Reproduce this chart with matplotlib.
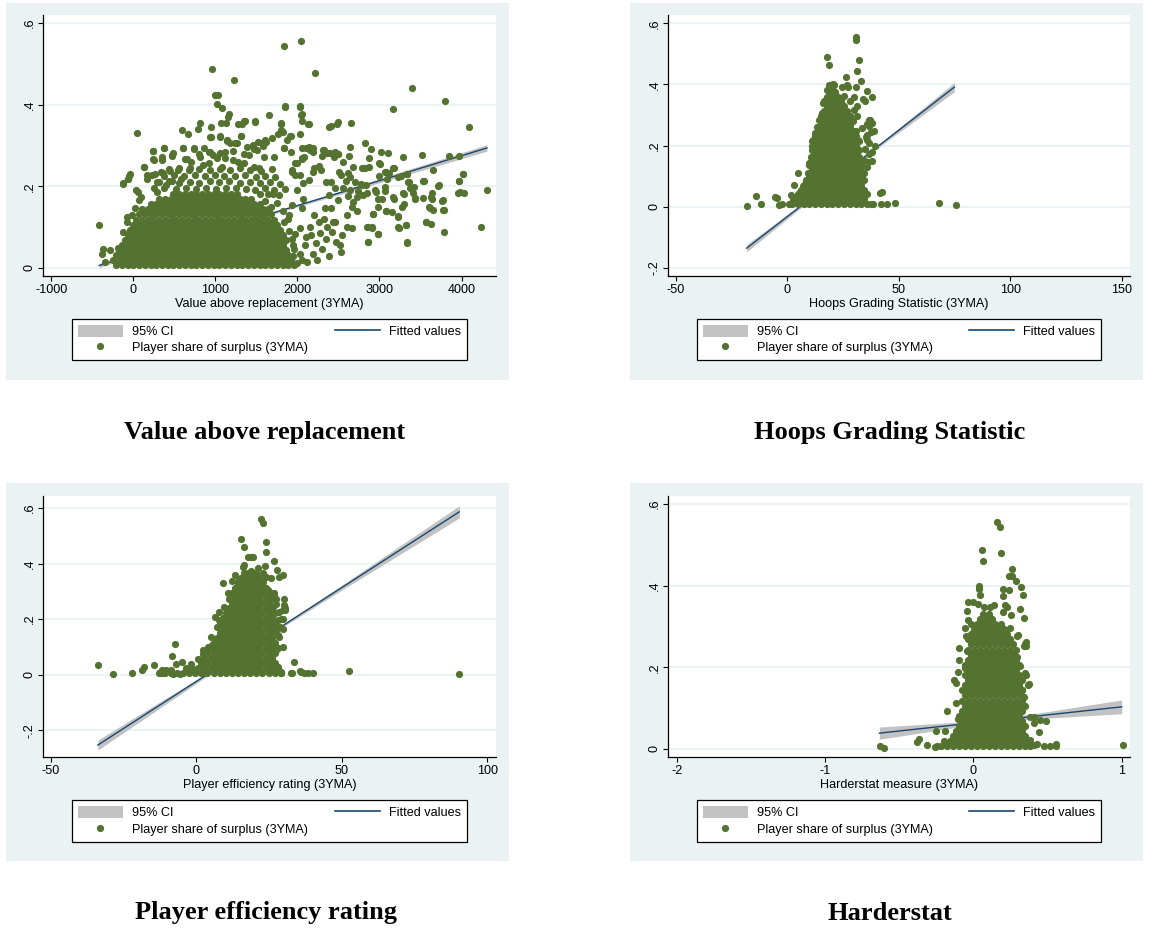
import numpy as np
import matplotlib
matplotlib.use("Agg")
import matplotlib.pyplot as plt
from matplotlib.patches import Patch, Rectangle
from matplotlib.lines import Line2D

plt.rcParams["font.family"] = ["Liberation Sans", "DejaVu Sans"]

# ---------------- panel 1: value above replacement ----------------
# dense core, read row by row (y level, x positions across the solid blob)
vorp_core_y = [0.006, 0.0185, 0.031, 0.0435, 0.056, 0.0685, 0.081, 0.0935, 0.106, 0.1185, 0.131, 0.1435,
               0.156, 0.1685, 0.181]
vorp_core_x = [
    [-210, -140, -70, 0, 70, 140, 210, 280, 350, 420, 490, 560, 630, 700, 770, 840, 910, 980, 1050, 1120, 1190, 1260, 1330, 1400, 1470, 1540, 1610, 1680, 1750, 1820, 1890, 1960],
    [-245, -175, -105, -35, 35, 105, 175, 245, 315, 385, 455, 525, 595, 665, 735, 805, 875, 945, 1015, 1085, 1155, 1225, 1295, 1365, 1435, 1505, 1575, 1645, 1715, 1785, 1855, 1925],
    [-210, -140, -70, 0, 70, 140, 210, 280, 350, 420, 490, 560, 630, 700, 770, 840, 910, 980, 1050, 1120, 1190, 1260, 1330, 1400, 1470, 1540, 1610, 1680, 1750, 1820, 1890],
    [-175, -105, -35, 35, 105, 175, 245, 315, 385, 455, 525, 595, 665, 735, 805, 875, 945, 1015, 1085, 1155, 1225, 1295, 1365, 1435, 1505, 1575, 1645, 1715, 1785, 1855],
    [-140, -70, 0, 70, 140, 210, 280, 350, 420, 490, 560, 630, 700, 770, 840, 910, 980, 1050, 1120, 1190, 1260, 1330, 1400, 1470, 1540, 1610, 1680, 1750, 1820],
    [-105, -35, 35, 105, 175, 245, 315, 385, 455, 525, 595, 665, 735, 805, 875, 945, 1015, 1085, 1155, 1225, 1295, 1365, 1435, 1505, 1575, 1645, 1715, 1785, 1855],
    [-70, 0, 70, 140, 210, 280, 350, 420, 490, 560, 630, 700, 770, 840, 910, 980, 1050, 1120, 1190, 1260, 1330, 1400, 1470, 1540, 1610, 1680, 1750, 1820],
    [-35, 35, 105, 175, 245, 315, 385, 455, 525, 595, 665, 735, 805, 875, 945, 1015, 1085, 1155, 1225, 1295, 1365, 1435, 1505, 1575, 1645, 1715, 1785],
    [0, 70, 140, 210, 280, 350, 420, 490, 560, 630, 700, 770, 840, 910, 980, 1050, 1120, 1190, 1260, 1330, 1400, 1470, 1540, 1610, 1680, 1750],
    [35, 105, 175, 245, 315, 385, 455, 525, 595, 665, 735, 805, 875, 945, 1015, 1085, 1155, 1225, 1295, 1365, 1435, 1505, 1575, 1645, 1715],
    [70, 140, 210, 280, 350, 420, 490, 560, 630, 700, 770, 840, 910, 980, 1050, 1120, 1190, 1260, 1330, 1400, 1470, 1540, 1610, 1680],
    [105, 175, 245, 315, 385, 455, 525, 595, 665, 735, 805, 875, 945, 1015, 1085, 1155, 1225, 1295, 1365, 1435, 1505, 1575, 1645],
    [210, 280, 350, 420, 490, 560, 630, 700, 770, 840, 910, 980, 1050, 1120, 1190, 1260, 1330, 1400, 1470, 1540],
    [315, 385, 455, 525, 595, 665, 735, 805, 875, 945, 1015, 1085, 1155, 1225, 1295, 1365, 1435],
    [490, 560, 630, 700, 770, 840, 910, 980, 1050, 1120, 1190, 1260],
]
vorp_pts = [
    (-418, 0.106), (-365, 0.047), (-386, 0.033), (-284, 0.043), (-345, 0.015), (-187, 0.048), (-155, 0.048),
    (41, 0.331), (-122, 0.207), (-61, 0.219), (-41, 0.230), (-77, 0.125), (-73, 0.112), (34, 0.192), (61, 0.187),
    (100, 0.174), (73, 0.166), (22, 0.147), (-18, 0.129), (-120, 0.089), (-49, 0.224), (-65, 0.218), (-124, 0.206),
    (962, 0.488), (1230, 0.461), (995, 0.424), (1036, 0.424), (1015, 0.401), (1076, 0.393), (1167, 0.377), (1159, 0.369),
    (1836, 0.544), (2043, 0.557), (2213, 0.479), (3396, 0.442), (3798, 0.410), (3159, 0.390), (4089, 0.345),
    (4313, 0.192), (4236, 0.101), (3790, 0.087), (3330, 0.062), (2855, 0.064), (2985, 0.084),
    (2030, 0.395), (1848, 0.395), (1649, 0.376), (1482, 0.358), (1360, 0.361), (1320, 0.353),
    (597, 0.338), (662, 0.327), (814, 0.356), (942, 0.346), (942, 0.320), (1060, 0.322), (1069, 0.355), (1128, 0.355),
    (1281, 0.352), (1312, 0.324), (1799, 0.353), (1909, 0.323), (2043, 0.375), (2055, 0.361), (2144, 0.352),
    (2387, 0.346), (2477, 0.353), (2490, 0.357), (2648, 0.356), (2405, 0.347), (1795, 0.355), (1803, 0.338),
    (1925, 0.324), (2125, 0.352), (2031, 0.328), (2054, 0.378), (790, 0.341), (1140, 0.311), (1238, 0.305), (1316, 0.324),
    (2640, 0.297), (2823, 0.307), (2896, 0.291), (3017, 0.284), (3107, 0.282), (3290, 0.273), (3513, 0.277),
    (3850, 0.275), (3972, 0.275), (4012, 0.230), (3972, 0.213), (3960, 0.184), (4029, 0.183), (3708, 0.201),
    (3533, 0.214), (3635, 0.170), (3765, 0.165), (3647, 0.142), (3777, 0.142), (3561, 0.113), (3626, 0.107),
    (3602, 0.150), (3431, 0.170), (3411, 0.184), (3350, 0.211), (3370, 0.195), (3330, 0.229), (3229, 0.223),
    (3281, 0.183), (3297, 0.156), (3180, 0.170), (3066, 0.236), (3119, 0.232), (3168, 0.246), (3066, 0.199),
    (2997, 0.256), (2993, 0.226), (3025, 0.169), (2985, 0.150), (3078, 0.140), (3221, 0.124), (3322, 0.105),
    (3241, 0.098), (2924, 0.133), (2855, 0.101), (2912, 0.098), (2944, 0.191), (2843, 0.184), (2782, 0.203),
    (2875, 0.248), (2782, 0.244), (2701, 0.211), (2640, 0.223), (2632, 0.275), (2558, 0.260), (2497, 0.278),
    (2449, 0.273), (2396, 0.281), (2306, 0.289), (2302, 0.275), (2193, 0.285), (2185, 0.293), (2144, 0.297),
    (2051, 0.295), (2079, 0.273), (1970, 0.256), (1929, 0.241), (1868, 0.313), (1840, 0.295), (1820, 0.334),
    (1767, 0.328), (1694, 0.318), (1616, 0.309), (1584, 0.300), (1523, 0.308), (1462, 0.299), (1352, 0.278),
    (1474, 0.291), (1381, 0.297), (1178, 0.307), (1137, 0.313), (1259, 0.305), (1218, 0.287), (1117, 0.285),
    (1056, 0.281), (975, 0.277), (926, 0.283), (865, 0.293), (743, 0.292), (812, 0.273), (601, 0.293), (630, 0.268),
    (487, 0.281), (374, 0.295), (345, 0.273), (240, 0.287), (252, 0.264), (134, 0.248), (162, 0.228), (264, 0.230),
    (284, 0.211), (365, 0.232), (475, 0.277),
    (2877, 0.269), (2818, 0.246), (3003, 0.255), (3074, 0.234), (3172, 0.244), (3086, 0.217), (3263, 0.226),
    (3334, 0.231), (3357, 0.211), (3416, 0.199), (3428, 0.172), (3538, 0.214), (3527, 0.171), (3653, 0.241),
    (3720, 0.202), (3645, 0.184), (3629, 0.173), (3613, 0.147), (3566, 0.113), (3771, 0.166), (3786, 0.142),
    (3964, 0.213), (3983, 0.186), (4022, 0.229), (3334, 0.063), (3231, 0.099), (3223, 0.127), (3294, 0.180),
    (3279, 0.149), (3326, 0.105), (3157, 0.137), (3074, 0.140), (3168, 0.174), (3070, 0.188), (2952, 0.186),
    (2983, 0.170), (2916, 0.132), (2979, 0.084), (2857, 0.064), (2905, 0.100), (2842, 0.100), (2798, 0.179),
    (2838, 0.202), (2779, 0.205), (2740, 0.188), (2724, 0.174), (2672, 0.162), (2724, 0.139), (2665, 0.148),
    (2641, 0.192), (2680, 0.248), (2621, 0.233), (2590, 0.213), (2503, 0.236), (2527, 0.228), (2558, 0.195),
    (2613, 0.177), (2602, 0.130), (2661, 0.097), (2610, 0.101), (2543, 0.080), (2515, 0.056), (2527, 0.038),
    (2472, 0.064), (2424, 0.089), (2460, 0.113), (2495, 0.166), (2460, 0.195), (2413, 0.211), (2464, 0.285),
    (2491, 0.278), (2428, 0.278), (2365, 0.281), (2322, 0.290), (2287, 0.239), (2259, 0.250), (2188, 0.236),
    (2141, 0.215), (2070, 0.209), (2354, 0.211), (2385, 0.179), (2342, 0.146), (2330, 0.120), (2405, 0.146),
    (2432, 0.112), (2365, 0.099), (2267, 0.113), (2208, 0.130), (2149, 0.101), (2169, 0.080), (2090, 0.056),
    (2188, 0.035), (2031, 0.033), (1952, 0.029), (1952, 0.056), (1972, 0.082), (2031, 0.097), (1893, 0.130),
    (1936, 0.154), (1834, 0.113), (2051, 0.146), (2070, 0.170), (1992, 0.191), (1976, 0.228), (2031, 0.228),
    (1992, 0.256), (1932, 0.236), (2110, 0.293), (2149, 0.289), (2051, 0.269), (2200, 0.244), (1846, 0.396),
    (2027, 0.396), (1606, 0.314), (1842, 0.293), (1925, 0.283), (1716, 0.273), (2058, 0.267),
    (1355, 0.360), (1481, 0.359), (1057, 0.323), (932, 0.320), (237, 0.287), (375, 0.295), (477, 0.275),
    (610, 0.293), (740, 0.293), (806, 0.278), (932, 0.283), (649, 0.267), (347, 0.265), (237, 0.266), (131, 0.247),
    (163, 0.218), (226, 0.228), (343, 0.236), (453, 0.238), (551, 0.240), (696, 0.246), (288, 0.187), (394, 0.202),
    (473, 0.213), (578, 0.219), (708, 0.260), (845, 0.252), (924, 0.256), (1022, 0.269), (1120, 0.269), (1081, 0.248),
    (1218, 0.265), (1277, 0.260), (1348, 0.256), (1465, 0.301), (1504, 0.289), (1567, 0.305), (1414, 0.277),
    (1473, 0.248), (1532, 0.244), (1591, 0.273),
    (250, 0.195), (370, 0.196), (520, 0.193), (640, 0.197), (760, 0.194), (890, 0.196), (1010, 0.193), (1130, 0.195),
    (1250, 0.197), (1370, 0.194), (1480, 0.192), (1600, 0.196), (1720, 0.190), (1850, 0.193),
    (310, 0.210), (430, 0.212), (560, 0.209), (690, 0.211), (800, 0.208), (930, 0.212), (1050, 0.210), (1170, 0.213),
    (1300, 0.209), (1420, 0.211), (1540, 0.207), (1660, 0.210), (1790, 0.206),
    (380, 0.226), (500, 0.228), (620, 0.225), (750, 0.227), (870, 0.224), (990, 0.228), (1110, 0.226), (1240, 0.224),
    (1360, 0.227), (1490, 0.223), (1610, 0.225), (1730, 0.222),
    (430, 0.242), (560, 0.244), (680, 0.241), (800, 0.243), (930, 0.240), (1060, 0.243), (1180, 0.241), (1300, 0.244),
    (1420, 0.240), (1560, 0.238), (1690, 0.242),
    (1600, 0.165), (1680, 0.150), (1750, 0.160), (1820, 0.140), (1880, 0.120), (1700, 0.180), (1780, 0.178),
    (1550, 0.180), (1640, 0.182), (1900, 0.090), (1930, 0.070), (1960, 0.045), (1990, 0.012), (2060, 0.020),
    (2120, 0.015), (2240, 0.020), (2100, 0.075), (2230, 0.060), (2300, 0.045), (2380, 0.030), (2350, 0.070), (2270, 0.085),
]
vorp_fit_x = [-415, 800, 2500, 4310]
vorp_fit_y = [0.006, 0.080, 0.183, 0.294]
vorp_ci_half = [0.005, 0.0015, 0.004, 0.008]

# ---------------- panel 2: hoops grading statistic ----------------
hgs_core_y = [0.008, 0.024, 0.040, 0.056, 0.072, 0.088, 0.104, 0.120, 0.136, 0.152, 0.168, 0.184,
              0.200, 0.216, 0.232, 0.248, 0.264, 0.280, 0.296, 0.312, 0.328, 0.344, 0.360, 0.376]
hgs_core_x = [
    [2.0, 4.6, 7.2, 9.8, 12.4, 15.0, 17.6, 20.2, 22.8, 25.4, 28.0, 30.6, 33.2, 35.8, 38.4],
    [3.3, 5.9, 8.5, 11.1, 13.7, 16.3, 18.9, 21.5, 24.1, 26.7, 29.3, 31.9, 34.5],
    [4.6, 7.2, 9.8, 12.4, 15.0, 17.6, 20.2, 22.8, 25.4, 28.0, 30.6, 33.2, 35.8],
    [5.9, 8.5, 11.1, 13.7, 16.3, 18.9, 21.5, 24.1, 26.7, 29.3, 31.9, 34.5],
    [7.2, 9.8, 12.4, 15.0, 17.6, 20.2, 22.8, 25.4, 28.0, 30.6, 33.2],
    [8.5, 11.1, 13.7, 16.3, 18.9, 21.5, 24.1, 26.7, 29.3, 31.9, 34.5],
    [9.8, 12.4, 15.0, 17.6, 20.2, 22.8, 25.4, 28.0, 30.6, 33.2],
    [11.1, 13.7, 16.3, 18.9, 21.5, 24.1, 26.7, 29.3, 31.9],
    [9.8, 12.4, 15.0, 17.6, 20.2, 22.8, 25.4, 28.0, 30.6, 33.2],
    [11.1, 13.7, 16.3, 18.9, 21.5, 24.1, 26.7, 29.3, 31.9],
    [12.4, 15.0, 17.6, 20.2, 22.8, 25.4, 28.0, 30.6],
    [11.1, 13.7, 16.3, 18.9, 21.5, 24.1, 26.7, 29.3, 31.9],
    [12.4, 15.0, 17.6, 20.2, 22.8, 25.4, 28.0, 30.6],
    [11.1, 13.7, 16.3, 18.9, 21.5, 24.1, 26.7, 29.3, 31.9],
    [12.4, 15.0, 17.6, 20.2, 22.8, 25.4, 28.0, 30.6],
    [13.7, 16.3, 18.9, 21.5, 24.1, 26.7, 29.3],
    [15.0, 17.6, 20.2, 22.8, 25.4, 28.0],
    [16.3, 18.9, 21.5, 24.1, 26.7, 29.3],
    [15.0, 17.6, 20.2, 22.8, 25.4, 28.0],
    [16.3, 18.9, 21.5, 24.1, 26.7],
    [17.6, 20.2, 22.8, 25.4],
    [16.3, 18.9, 21.5, 24.1],
    [17.6, 20.2, 22.8],
    [18.9, 21.5],
]
hgs_pts = [
    (30.9, 0.556), (30.9, 0.544), (17.7, 0.489), (18.6, 0.462), (32.0, 0.481), (31.4, 0.443), (26.4, 0.424),
    (33.0, 0.412), (20.3, 0.402), (21.0, 0.397), (26.9, 0.397), (27.3, 0.391), (30.6, 0.390), (19.2, 0.379),
    (35.6, 0.377), (29.9, 0.360), (33.8, 0.352), (35.0, 0.344), (38.1, 0.359), (17.6, 0.339), (31.4, 0.328),
    (37.1, 0.283), (38.1, 0.274), (36.5, 0.264), (38.7, 0.246), (35.9, 0.233), (35.6, 0.219), (39.3, 0.199),
    (38.1, 0.180), (37.8, 0.148), (33.6, 0.150), (35.9, 0.131), (33.9, 0.109), (4.8, 0.109), (2.8, 0.071),
    (1.7, 0.038), (-4.5, 0.027), (-5.4, 0.030), (-14.2, 0.035), (-18.1, 0.003), (-11.7, 0.009), (-3.6, 0.006),
    (-2.4, 0.008), (0.6, 0.008), (42.5, 0.047), (41.4, 0.046), (42.0, 0.008), (44.6, 0.008), (48.2, 0.013),
    (37.4, 0.008), (68.0, 0.011), (75.6, 0.005), (14.9, 0.252), (13.7, 0.213), (12.2, 0.153), (11.1, 0.082),
    (5.9, 0.049),
    (36.4, 0.284), (35.7, 0.271), (33.4, 0.257), (37.5, 0.243), (35.2, 0.229), (36.7, 0.207), (34.9, 0.188),
    (36.4, 0.173), (34.5, 0.153), (36.0, 0.145), (33.0, 0.131), (34.2, 0.109), (31.9, 0.164), (31.6, 0.219),
    (30.7, 0.246), (31.2, 0.295), (29.7, 0.317), (28.2, 0.344), (25.5, 0.361), (24.4, 0.393), (22.1, 0.350),
    (20.6, 0.377), (18.8, 0.399), (17.9, 0.380), (16.1, 0.339), (15.4, 0.306), (14.3, 0.284), (13.1, 0.262),
    (12.3, 0.240), (11.3, 0.219), (10.8, 0.197), (10.4, 0.164), (9.8, 0.142), (9.3, 0.109), (8.1, 0.082),
    (6.8, 0.066), (5.6, 0.049), (4.1, 0.033), (2.6, 0.022),
]
hgs_fit_x = [-18.3, 20, 45, 74.9]
hgs_fit_y = [-0.136, 0.081, 0.222, 0.391]
hgs_ci_half = [0.012, 0.002, 0.006, 0.015]

# ---------------- panel 3: player efficiency rating ----------------
per_core_y = [0.005, 0.023, 0.041, 0.059, 0.077, 0.095, 0.113, 0.131, 0.149, 0.167, 0.185, 0.203,
              0.221, 0.239, 0.257, 0.275, 0.293, 0.311, 0.329, 0.347, 0.365]
per_core_x = [
    [-13.0, -10.9, -8.8, -6.7, -4.6, -2.5, -0.4, 1.7, 3.8, 5.9, 8.0, 10.1, 12.2, 14.3, 16.4, 18.5, 20.6, 22.7, 24.8, 26.9, 29.0],
    [-3.55, -1.45, 0.65, 2.75, 4.85, 6.95, 9.05, 11.15, 13.25, 15.35, 17.45, 19.55, 21.65, 23.75, 25.85, 27.95],
    [1.7, 3.8, 5.9, 8.0, 10.1, 12.2, 14.3, 16.4, 18.5, 20.6, 22.7, 24.8, 26.9],
    [2.75, 4.85, 6.95, 9.05, 11.15, 13.25, 15.35, 17.45, 19.55, 21.65, 23.75, 25.85],
    [3.8, 5.9, 8.0, 10.1, 12.2, 14.3, 16.4, 18.5, 20.6, 22.7, 24.8, 26.9],
    [4.85, 6.95, 9.05, 11.15, 13.25, 15.35, 17.45, 19.55, 21.65, 23.75, 25.85, 27.95],
    [5.9, 8.0, 10.1, 12.2, 14.3, 16.4, 18.5, 20.6, 22.7, 24.8, 26.9],
    [6.95, 9.05, 11.15, 13.25, 15.35, 17.45, 19.55, 21.65, 23.75, 25.85],
    [8.0, 10.1, 12.2, 14.3, 16.4, 18.5, 20.6, 22.7, 24.8, 26.9],
    [9.05, 11.15, 13.25, 15.35, 17.45, 19.55, 21.65, 23.75, 25.85, 27.95],
    [8.0, 10.1, 12.2, 14.3, 16.4, 18.5, 20.6, 22.7, 24.8, 26.9],
    [9.05, 11.15, 13.25, 15.35, 17.45, 19.55, 21.65, 23.75, 25.85],
    [10.1, 12.2, 14.3, 16.4, 18.5, 20.6, 22.7, 24.8, 26.9],
    [11.15, 13.25, 15.35, 17.45, 19.55, 21.65, 23.75, 25.85],
    [12.2, 14.3, 16.4, 18.5, 20.6, 22.7, 24.8],
    [13.25, 15.35, 17.45, 19.55, 21.65, 23.75, 25.85],
    [12.2, 14.3, 16.4, 18.5, 20.6, 22.7, 24.8],
    [13.25, 15.35, 17.45, 19.55, 21.65, 23.75],
    [14.3, 16.4, 18.5, 20.6, 22.7],
    [15.35, 17.45, 19.55, 21.65],
    [16.4, 18.5, 20.6],
]
per_pts = [
    (22.2, 0.560), (22.9, 0.545), (15.4, 0.488), (16.2, 0.461), (23.9, 0.479), (24.0, 0.443), (17.6, 0.425),
    (18.8, 0.425), (19.4, 0.425), (26.7, 0.410), (15.9, 0.389), (16.5, 0.395), (23.7, 0.391), (27.7, 0.377),
    (25.7, 0.350), (28.5, 0.353), (29.7, 0.358), (9.2, 0.332), (12.1, 0.338), (22.8, 0.335), (10.8, 0.296),
    (26.8, 0.296), (26.6, 0.284), (30.0, 0.274), (30.3, 0.242), (30.3, 0.232), (29.9, 0.202), (29.7, 0.166),
    (29.8, 0.100), (6.5, 0.208), (7.9, 0.226), (5.3, 0.106), (2.2, 0.088), (-7.5, 0.109), (-8.5, 0.068),
    (-7.0, 0.040), (-5.0, 0.044), (-1.8, 0.038), (-14.6, 0.036), (-18.0, 0.028), (-18.7, 0.016), (-22.0, 0.007),
    (-28.6, 0.004), (-34.0, 0.034), (-12.0, 0.016), (-11.7, 0.006), (-10.3, 0.016), (-8.8, 0.018), (-8.1, 0.004),
    (-5.8, 0.004), (28.0, 0.028), (29.1, 0.007), (32.8, 0.006), (33.7, 0.045), (36.0, 0.010), (37.1, 0.006),
    (38.3, 0.006), (32.4, 0.006), (35.5, 0.012), (40.1, 0.006), (52.4, 0.012), (90.2, 0.004), (29.0, 0.010),
    (26.9, 0.024),
    (13.1, 0.358), (14.8, 0.346), (16.5, 0.328), (19.9, 0.334), (21.7, 0.316), (24.5, 0.304), (25.4, 0.268),
    (27.4, 0.256), (28.5, 0.226), (28.0, 0.196), (28.5, 0.136), (27.4, 0.088), (25.7, 0.046), (11.3, 0.274),
    (9.6, 0.244), (7.9, 0.196), (7.1, 0.172), (5.0, 0.136), (3.9, 0.100), (2.2, 0.076), (0.5, 0.058),
    (18.8, 0.374), (17.6, 0.365), (21.1, 0.383), (22.8, 0.365), (24.0, 0.352),
    (29.8, 0.233), (30.0, 0.251), (29.2, 0.202), (28.9, 0.172), (28.1, 0.142), (27.5, 0.271), (25.8, 0.293),
    (26.4, 0.245),
]
per_fit_x = [-33.9, 15, 50, 90.4]
per_fit_y = [-0.254, 0.077, 0.314, 0.587]
per_ci_half = [0.018, 0.002, 0.009, 0.022]

# ---------------- panel 4: harderstat ----------------
hard_core_y = [0.006, 0.0185, 0.031, 0.0435, 0.056, 0.0685, 0.081, 0.0935, 0.106, 0.1185, 0.131, 0.1435,
               0.156, 0.1685, 0.181, 0.1935, 0.206, 0.2185, 0.231, 0.2435, 0.256, 0.2685, 0.281, 0.2935,
               0.306, 0.3185, 0.331]
hard_core_x = [
    [-0.215, -0.175, -0.135, -0.095, -0.055, -0.015, 0.025, 0.065, 0.105, 0.145, 0.185, 0.225, 0.265, 0.305, 0.345, 0.385],
    [-0.195, -0.155, -0.115, -0.075, -0.035, 0.005, 0.045, 0.085, 0.125, 0.165, 0.205, 0.245, 0.285, 0.325, 0.365],
    [-0.135, -0.095, -0.055, -0.015, 0.025, 0.065, 0.105, 0.145, 0.185, 0.225, 0.265, 0.305, 0.345],
    [-0.115, -0.075, -0.035, 0.005, 0.045, 0.085, 0.125, 0.165, 0.205, 0.245, 0.285, 0.325],
    [-0.095, -0.055, -0.015, 0.025, 0.065, 0.105, 0.145, 0.185, 0.225, 0.265, 0.305, 0.345],
    [-0.075, -0.035, 0.005, 0.045, 0.085, 0.125, 0.165, 0.205, 0.245, 0.285, 0.325],
    [-0.095, -0.055, -0.015, 0.025, 0.065, 0.105, 0.145, 0.185, 0.225, 0.265, 0.305],
    [-0.075, -0.035, 0.005, 0.045, 0.085, 0.125, 0.165, 0.205, 0.245, 0.285, 0.325],
    [-0.055, -0.015, 0.025, 0.065, 0.105, 0.145, 0.185, 0.225, 0.265, 0.305, 0.345],
    [-0.075, -0.035, 0.005, 0.045, 0.085, 0.125, 0.165, 0.205, 0.245, 0.285, 0.325],
    [-0.055, -0.015, 0.025, 0.065, 0.105, 0.145, 0.185, 0.225, 0.265, 0.305],
    [-0.075, -0.035, 0.005, 0.045, 0.085, 0.125, 0.165, 0.205, 0.245, 0.285, 0.325],
    [-0.055, -0.015, 0.025, 0.065, 0.105, 0.145, 0.185, 0.225, 0.265, 0.305],
    [-0.035, 0.005, 0.045, 0.085, 0.125, 0.165, 0.205, 0.245, 0.285, 0.325],
    [-0.055, -0.015, 0.025, 0.065, 0.105, 0.145, 0.185, 0.225, 0.265, 0.305],
    [-0.035, 0.005, 0.045, 0.085, 0.125, 0.165, 0.205, 0.245, 0.285],
    [-0.055, -0.015, 0.025, 0.065, 0.105, 0.145, 0.185, 0.225, 0.265, 0.305],
    [-0.035, 0.005, 0.045, 0.085, 0.125, 0.165, 0.205, 0.245, 0.285],
    [-0.015, 0.025, 0.065, 0.105, 0.145, 0.185, 0.225, 0.265],
    [-0.035, 0.005, 0.045, 0.085, 0.125, 0.165, 0.205, 0.245, 0.285],
    [-0.015, 0.025, 0.065, 0.105, 0.145, 0.185, 0.225, 0.265],
    [-0.035, 0.005, 0.045, 0.085, 0.125, 0.165, 0.205, 0.245],
    [-0.015, 0.025, 0.065, 0.105, 0.145, 0.185, 0.225],
    [0.005, 0.045, 0.085, 0.125, 0.165, 0.205],
    [-0.015, 0.025, 0.065, 0.105, 0.145, 0.185],
    [0.045, 0.085, 0.125],
    [0.065, 0.105],
]
hard_pts = [
    (0.158, 0.557), (0.181, 0.544), (0.057, 0.488), (0.064, 0.461), (0.185, 0.480), (0.260, 0.441), (0.237, 0.425),
    (0.260, 0.425), (0.284, 0.411), (0.320, 0.396), (0.334, 0.377), (0.203, 0.392), (0.237, 0.390), (0.203, 0.375),
    (0.039, 0.400), (0.035, 0.393), (0.046, 0.378), (-0.033, 0.361), (-0.003, 0.360), (0.028, 0.356), (0.073, 0.349),
    (0.113, 0.349), (0.136, 0.353), (0.210, 0.353), (0.226, 0.349), (0.311, 0.344), (0.203, 0.335), (0.255, 0.329),
    (-0.044, 0.337), (-0.039, 0.316), (0.343, 0.320), (0.068, 0.324), (0.102, 0.320), (-0.055, 0.296), (0.248, 0.296),
    (0.300, 0.280), (0.293, 0.276), (0.354, 0.262), (0.354, 0.253), (-0.051, 0.276), (-0.096, 0.247), (-0.044, 0.239),
    (0.293, 0.226), (-0.100, 0.217), (-0.055, 0.198), (-0.107, 0.188), (0.316, 0.204), (0.350, 0.186), (-0.134, 0.168),
    (-0.116, 0.161), (0.372, 0.159), (0.327, 0.145), (0.343, 0.128), (-0.116, 0.112), (-0.179, 0.092), (-0.105, 0.073),
    (0.406, 0.079), (0.451, 0.071), (0.491, 0.069), (0.442, 0.041), (0.406, 0.063), (-0.251, 0.044), (-0.190, 0.043),
    (-0.370, 0.024), (-0.381, 0.018), (-0.314, 0.010), (-0.262, 0.004), (-0.246, 0.006), (0.383, 0.022), (0.406, 0.009),
    (0.473, 0.007), (0.514, 0.006), (0.559, 0.008), (-0.630, 0.007), (-0.603, 0.003), (0.558, 0.012), (1.006, 0.009),
    (0.428, 0.012), (0.383, 0.079), (0.353, 0.182), (0.369, 0.157), (0.349, 0.258), (0.344, 0.251),
]
hard_fit_x = [-0.634, 0.08, 0.5, 1.0]
hard_fit_y = [0.0385, 0.0667, 0.0833, 0.103]
hard_ci_half = [0.015, 0.003, 0.008, 0.017]

panels = [
    dict(core_y=vorp_core_y, core_x=vorp_core_x, pts=vorp_pts, fx=vorp_fit_x, fy=vorp_fit_y, ci=vorp_ci_half,
         xlabel="Value above replacement (3YMA)", title="Value above replacement",
         xticks=[-1000, 0, 1000, 2000, 3000, 4000], yticks=[0, 0.2, 0.4, 0.6],
         xlim=(-1100, 4420), ylim=(-0.02, 0.62), box=(43, 15, 496, 276), bg=(6, 3, 509, 380),
         leg=(72, 318, 467, 361), tpos=(265, 433)),
    dict(core_y=hgs_core_y, core_x=hgs_core_x, pts=hgs_pts, fx=hgs_fit_x, fy=hgs_fit_y, ci=hgs_ci_half,
         xlabel="Hoops Grading Statistic (3YMA)", title="Hoops Grading Statistic",
         xticks=[-50, 0, 50, 100, 150], yticks=[-0.2, 0, 0.2, 0.4, 0.6],
         xlim=(-53.6, 153.7), ylim=(-0.227, 0.627), box=(668, 15, 1130, 276), bg=(630, 3, 1143, 380),
         leg=(697, 318, 1101, 361), tpos=(890, 433)),
    dict(core_y=per_core_y, core_x=per_core_x, pts=per_pts, fx=per_fit_x, fy=per_fit_y, ci=per_ci_half,
         xlabel="Player efficiency rating (3YMA)", title="Player efficiency rating",
         xticks=[-50, 0, 50, 100], yticks=[-0.2, 0, 0.2, 0.4, 0.6],
         xlim=(-52.75, 103), ylim=(-0.297, 0.644), box=(43, 496, 496, 757), bg=(6, 483, 509, 861),
         leg=(72, 800, 467, 842), tpos=(266, 913)),
    dict(core_y=hard_core_y, core_x=hard_core_x, pts=hard_pts, fx=hard_fit_x, fy=hard_fit_y, ci=hard_ci_half,
         xlabel="Harderstat measure (3YMA)", title="Harderstat",
         xticks=[-2, -1, 0, 1], yticks=[0, 0.2, 0.4, 0.6],
         xlim=(-2.059, 1.056), ylim=(-0.02, 0.62), box=(668, 496, 1130, 757), bg=(630, 483, 1143, 861),
         leg=(697, 800, 1101, 842), tpos=(890, 913)),
]

W, H = 1149, 932
green = "#557330"
navy = "#1A476F"
ci_gray = "#C2C2C2"
panel_bg = "#EAF2F3"
fs = 9.1

fig = plt.figure(figsize=(W / 100, H / 100), dpi=100)


def ylab(v):
    if v == 0:
        return "0"
    s = f"{v:.1f}"
    return s.replace("0.", ".")


for p in panels:
    bx0, by0, bx1, by1 = p["bg"]
    fig.patches.append(Rectangle((bx0 / W, 1 - by1 / H), (bx1 - bx0) / W, (by1 - by0) / H,
                                 transform=fig.transFigure, facecolor=panel_bg, edgecolor="none", zorder=0))
    x0, y0, x1, y1 = p["box"]
    ax = fig.add_axes([x0 / W, 1 - y1 / H, (x1 - x0) / W, (y1 - y0) / H])
    ax.set_facecolor("white")
    ax.set_zorder(1)

    fx = np.array(p["fx"])
    fy = np.array(p["fy"])
    ci = np.array(p["ci"])
    ax.fill_between(fx, fy - ci, fy + ci, color=ci_gray, lw=0, zorder=2)
    ax.plot(fx, fy, color=navy, lw=1.0, zorder=3)

    cx = [x for row in p["core_x"] for x in row]
    cy = [y for row, y in zip(p["core_x"], p["core_y"]) for _ in row]
    px = [q[0] for q in p["pts"]]
    py = [q[1] for q in p["pts"]]
    ax.plot(cx + px, cy + py, "o", ms=5.2, color=green, mew=0, zorder=4)

    ax.set_xlim(*p["xlim"])
    ax.set_ylim(*p["ylim"])
    ax.set_xticks(p["xticks"])
    ax.set_xticklabels([str(t) for t in p["xticks"]], fontsize=fs)
    ax.set_yticks(p["yticks"])
    ax.set_yticklabels([ylab(t) for t in p["yticks"]], fontsize=fs, rotation=90, va="center")
    ax.tick_params(direction="out", length=3.6, width=0.8, color="black")
    ax.tick_params(axis="x", pad=2)
    ax.tick_params(axis="y", pad=1.5)
    ax.yaxis.grid(True, color=panel_bg, lw=1.3)
    ax.set_axisbelow(True)
    for side in ("top", "right"):
        ax.spines[side].set_visible(False)
    for side in ("left", "bottom"):
        ax.spines[side].set_linewidth(0.9)
    ax.set_xlabel(p["xlabel"], fontsize=fs, va="center")
    ax.xaxis.set_label_coords(0.5, -28 / (y1 - y0))

    lx0, ly0, lx1, ly1 = p["leg"]
    handles = [Patch(facecolor=ci_gray, edgecolor="none"),
               Line2D([], [], ls="none", marker="o", ms=5.2, color=green, mew=0),
               Line2D([], [], color=navy, lw=1.2)]
    labels = ["95% CI", "Player share of surplus (3YMA)", "Fitted values"]
    leg = ax.legend(handles, labels, ncol=2, mode="expand", loc="center",
                    bbox_to_anchor=(lx0 / W, 1 - ly1 / H, (lx1 - lx0) / W, (ly1 - ly0) / H),
                    bbox_transform=fig.transFigure, frameon=True, fancybox=False, framealpha=1,
                    edgecolor="black", borderaxespad=0, handlelength=3.6, handleheight=1.1,
                    handletextpad=0.7, labelspacing=0.25, borderpad=0.45, fontsize=fs)
    leg.get_frame().set_linewidth(0.9)

    fig.text(p["tpos"][0] / W, 1 - p["tpos"][1] / H, p["title"], ha="center", va="center",
             family=["Liberation Serif", "DejaVu Serif"], fontweight="bold", fontsize=19)

fig.savefig("out.png", dpi=100)
